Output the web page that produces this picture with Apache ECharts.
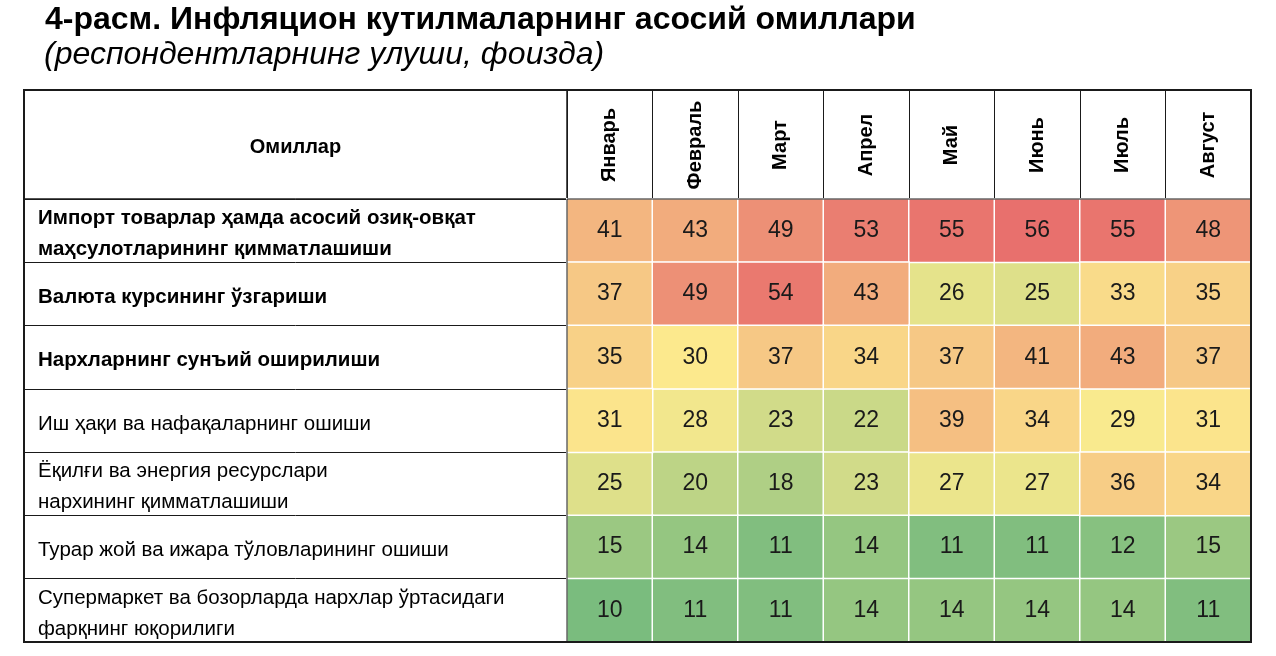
<!DOCTYPE html>
<html>
<head>
<meta charset="utf-8">
<script src="https://cdn.jsdelivr.net/npm/echarts@6/dist/echarts.min.js"></script>
<style>
    html, body {margin: 0; padding: 0; background: #fff;}
    #chartdiv {width: 1276px; height: 656px;}
</style>
</head>
<body>
<div id="chartdiv"></div>
<script>
var months = ["Январь", "Февраль", "Март", "Апрел", "Май", "Июнь", "Июль", "Август"];
var factors = [
    "Импорт товарлар ҳамда асосий озиқ-овқат\nмаҳсулотларининг қимматлашиши",
    "Валюта курсининг ўзгариши",
    "Нархларнинг сунъий оширилиши",
    "Иш ҳақи ва нафақаларнинг ошиши",
    "Ёқилғи ва энергия ресурслари\nнархининг қимматлашиши",
    "Турар жой ва ижара тўловларининг ошиши",
    "Супермаркет ва бозорларда нархлар ўртасидаги\nфарқнинг юқорилиги"
];
var boldRows = 3;

var row1 = [41, 43, 49, 53, 55, 56, 55, 48];
var row2 = [37, 49, 54, 43, 26, 25, 33, 35];
var row3 = [35, 30, 37, 34, 37, 41, 43, 37];
var row4 = [31, 28, 23, 22, 39, 34, 29, 31];
var row5 = [25, 20, 18, 23, 27, 27, 36, 34];
var row6 = [15, 14, 11, 14, 11, 11, 12, 15];
var row7 = [10, 11, 11, 14, 14, 14, 14, 11];
var rows = [row1, row2, row3, row4, row5, row6, row7];

// шкала: зелёный - жёлтый (медиана) - красный
var vMin = 10, vMid = 29.5, vMax = 56;

var lowData = [];
var highData = [];
for (var r = 0; r < rows.length; r++) {
    for (var c = 0; c < months.length; c++) {
        var v = rows[r][c];
        if (v <= vMid) {
            lowData.push([c, r, v]);
        } else {
            highData.push([c, r, v]);
        }
    }
}

var txtFont = '"Liberation Sans", Arial, sans-serif';
var lineColor = '#1a1a1a';

var dom = document.getElementById("chartdiv");
var myChart = echarts.init(dom);

var cellSeries = {
    type: 'heatmap',
    xAxisIndex: 3,
    yAxisIndex: 3,
    label: {
        show: true,
        fontFamily: txtFont,
        fontSize: 23,
        color: '#1a1a1a'
    },
    itemStyle: {borderColor: '#fff', borderWidth: 1.5},
    emphasis: {disabled: true}
};

var option = {
    animation: false,
    title: [
        {
            text: '4-расм. Инфляцион кутилмаларнинг асосий омиллари',
            left: 40,
            top: -1,
            textStyle: {fontFamily: txtFont, fontSize: 32, fontWeight: 'bold', color: '#000'}
        },
        {
            text: '(респондентларнинг улуши, фоизда)',
            left: 39,
            top: 34,
            textStyle: {fontFamily: txtFont, fontSize: 32, fontStyle: 'italic', fontWeight: 'normal', color: '#000'}
        }
    ],
    grid: [
        {left: 24, top: 90, width: 543, height: 109, show: true, borderColor: lineColor, borderWidth: 1},
        {left: 567, top: 90, width: 684, height: 109, show: true, borderColor: lineColor, borderWidth: 1},
        {left: 24, top: 199, width: 543, height: 443, show: true, borderColor: lineColor, borderWidth: 1},
        {left: 567, top: 199, width: 684, height: 443, show: true, borderColor: lineColor, borderWidth: 1, z: 10},
        {left: 24, top: 90, width: 1227, height: 552, show: true, borderColor: lineColor, borderWidth: 2, z: 20}
    ],
    xAxis: [
        {
            gridIndex: 0, type: 'category', data: ['Омиллар'], position: 'bottom',
            axisLine: {show: false}, axisTick: {show: false},
            axisLabel: {
                inside: true, margin: 52, verticalAlign: 'middle',
                fontFamily: txtFont, fontSize: 20, fontWeight: 'bold', color: '#000'
            }
        },
        {
            gridIndex: 1, type: 'category', data: months, position: 'bottom',
            axisLine: {show: false}, axisTick: {show: false},
            splitLine: {show: true, lineStyle: {color: lineColor, width: 1}},
            axisLabel: {
                inside: true, rotate: 90, margin: 54, align: 'center', verticalAlign: 'middle',
                interval: 0, fontFamily: txtFont, fontSize: 20, fontWeight: 'bold', color: '#000'
            }
        },
        {gridIndex: 2, type: 'value', show: false},
        {gridIndex: 3, type: 'category', data: months, show: false},
        {gridIndex: 4, type: 'value', show: false}
    ],
    yAxis: [
        {gridIndex: 0, type: 'value', show: false},
        {gridIndex: 1, type: 'value', show: false},
        {
            gridIndex: 2, type: 'category', data: factors, inverse: true,
            axisLine: {show: false}, axisTick: {show: false},
            splitLine: {show: true, lineStyle: {color: lineColor, width: 1}},
            axisLabel: {
                inside: true, margin: 14, align: 'left', verticalAlign: 'middle', interval: 0,
                padding: [7, 0, 0, 0],
                formatter: function (value, index) {
                    var s = index < boldRows ? 'b' : 'n';
                    return value.split('\n').map(function (l) {
                        return '{' + s + '|' + l + '}';
                    }).join('\n');
                },
                rich: {
                    b: {fontFamily: txtFont, fontSize: 20.5, fontWeight: 'bold', color: '#000', lineHeight: 31},
                    n: {fontFamily: txtFont, fontSize: 20.5, color: '#000', lineHeight: 31}
                }
            }
        },
        {gridIndex: 3, type: 'category', data: factors, inverse: true, show: false},
        {gridIndex: 4, type: 'value', show: false}
    ],
    visualMap: [
        {
            type: 'continuous', show: false, seriesIndex: 0, dimension: 2,
            min: vMin, max: vMid, inRange: {color: ['#7ABC7E', '#FCEB8E']}
        },
        {
            type: 'continuous', show: false, seriesIndex: 1, dimension: 2,
            min: vMid, max: vMax, inRange: {color: ['#FCEB8E', '#E8706D']}
        }
    ],
    series: [
        echarts.util.merge({name: 'low', data: lowData}, cellSeries),
        echarts.util.merge({name: 'high', data: highData}, cellSeries)
    ]
};

myChart.setOption(option);
</script>
</body>
</html>
